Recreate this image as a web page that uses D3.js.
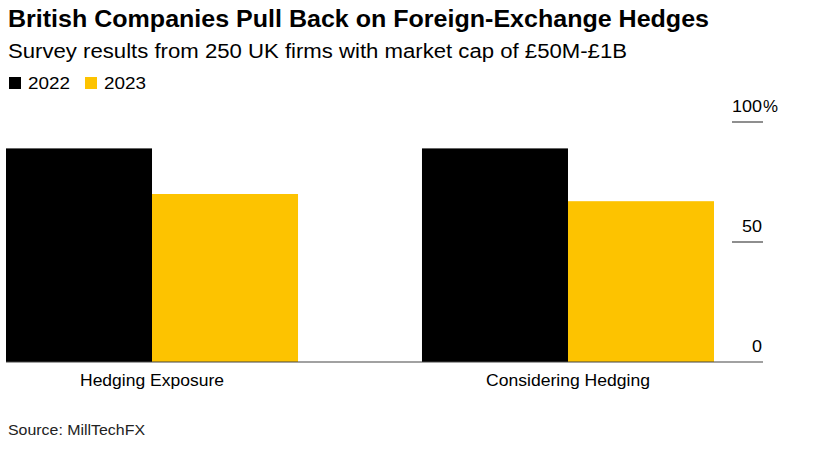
<!DOCTYPE html>
<html><head><meta charset="utf-8">
<script src="https://cdn.jsdelivr.net/npm/d3@7"></script>
<style>body{margin:0;background:#fff;font-family:"Liberation Sans",Arial,sans-serif;}</style>
</head><body>
<svg id="c" width="825" height="455"></svg>
<script>
const categories = ["Hedging Exposure", "Considering Hedging"];
const seriesNames = ["2022", "2023"];
const values2022 = [89, 89];
const values2023 = [70, 67];
const yTicks = [0, 50, 100];
const colors = ["#000000", "#fdc300"];

const svg = d3.select("#c");
const font = "Liberation Sans, Arial, sans-serif";

function txt(x, y, s, size, opts = {}) {
  const t = svg.append("text").attr("x", x).attr("y", y).attr("font-size", size)
    .attr("font-family", font).attr("fill", opts.fill || "#000").text(s);
  if (opts.bold) t.attr("font-weight", "bold");
  if (opts.anchor) t.attr("text-anchor", opts.anchor);
  if (opts.len) t.attr("textLength", opts.len).attr("lengthAdjust", "spacingAndGlyphs");
  return t;
}

txt(8, 27, "British Companies Pull Back on Foreign-Exchange Hedges", 23.5, {bold: true, len: 701});
txt(8, 58, "Survey results from 250 UK firms with market cap of £50M-£1B", 20, {len: 619});

// legend
const legX = [9, 85];
seriesNames.forEach((s, i) => {
  svg.append("rect").attr("x", legX[i]).attr("y", 77).attr("width", 12).attr("height", 12).attr("fill", colors[i]);
  txt(legX[i] + 19, 89, s, 17, {len: 42});
});

const y = d3.scaleLinear().domain([0, 100]).range([362, 122]);
const x0 = d3.scaleBand().domain(categories).range([6, 714]).paddingInner(0.298).paddingOuter(0);
const x1 = d3.scaleBand().domain(seriesNames).range([0, x0.bandwidth()]).padding(0);

const data = categories.map((c, i) => ({cat: c, vals: [values2022[i], values2023[i]]}));
const g = svg.append("g");
data.forEach(d => {
  d.vals.forEach((v, j) => {
    g.append("rect")
      .attr("x", x0(d.cat) + x1(seriesNames[j]))
      .attr("y", y(v))
      .attr("width", x1.bandwidth())
      .attr("height", y(0) - y(v))
      .attr("fill", colors[j]);
  });
});

// baseline
svg.append("line").attr("x1", 6).attr("x2", 763).attr("y1", y(0)).attr("y2", y(0)).attr("stroke", "#444").attr("stroke-width", 1.2);

// y ticks on right
yTicks.forEach(t => {
  if (t > 0) svg.append("line").attr("x1", 732).attr("x2", 763).attr("y1", y(t)).attr("y2", y(t)).attr("stroke", "#444").attr("stroke-width", 1.2);
  txt(762, y(t) - 10, t, 17, {anchor: "end", len: String(t).length * 10});
  if (t === 100) txt(763, y(t) - 10, "%", 17, {len: 15});
});

// category labels
const catLen = [144, 164];
categories.forEach((c, i) => {
  txt(x0(c) + x0.bandwidth() / 2, 386, c, 17, {anchor: "middle", len: catLen[i]});
});

txt(8, 435, "Source: MillTechFX", 15, {fill: "#222", len: 137});
</script>
</body></html>
